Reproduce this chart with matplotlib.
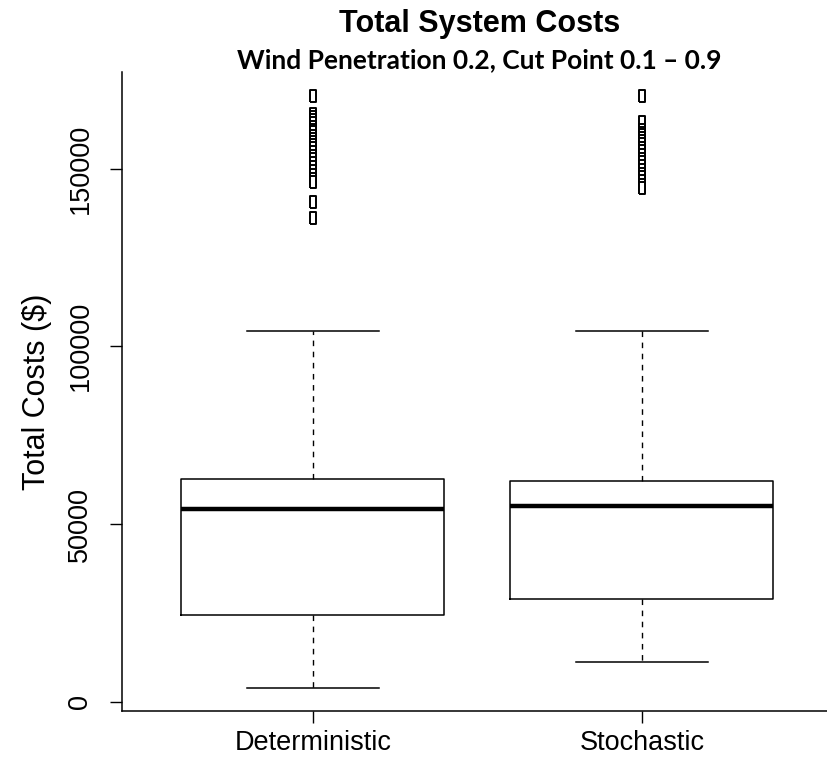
import matplotlib
matplotlib.use('Agg')
import matplotlib.pyplot as plt

# summary statistics of total system costs ($) per unit-commitment model
models = ['Deterministic', 'Stochastic']
lower_whisker = [3900, 11200]
q1 = [24500, 28900]
median = [54300, 55000]
q3 = [62700, 62200]
upper_whisker = [104300, 104300]

outliers_det = [170500, 165500, 164600, 163800, 162900, 161800, 160900, 160200,
                159300, 158400, 157500, 156600, 155700, 154600, 153600, 152700,
                151600, 150500, 149400, 148300, 147200, 146300, 140500, 136000]
outliers_sto = [170500, 163000, 160800, 160100, 159400, 158600, 157700, 156800,
                155800, 154900, 153900, 152800, 151800, 150700, 149700, 148600,
                147600, 146500, 145500, 144600]

plt.rcParams['font.family'] = ['Liberation Sans', 'DejaVu Sans']

fig = plt.figure(figsize=(8.27, 7.58), dpi=100)
ax = fig.add_axes([122 / 827, 47 / 758, 1 - 122 / 827, 639 / 758])

stats = []
for i, name in enumerate(models):
    stats.append({
        'label': name,
        'whislo': lower_whisker[i],
        'q1': q1[i],
        'med': median[i],
        'q3': q3[i],
        'whishi': upper_whisker[i],
        'fliers': [outliers_det, outliers_sto][i],
    })

# narrow open rectangle for the outlier points
rect = [(-0.28, -0.5), (0.28, -0.5), (0.28, 0.5), (-0.28, 0.5), (-0.28, -0.5)]

ax.bxp(stats, positions=[1, 2], widths=0.8, capwidths=0.4,
       boxprops=dict(color='black', linewidth=1.1),
       medianprops=dict(color='black', linewidth=3.2),
       whiskerprops=dict(color='black', linewidth=1.0, linestyle=(0, (4, 4))),
       capprops=dict(color='black', linewidth=1.1),
       flierprops=dict(marker=rect, markersize=8, markerfacecolor='white',
                       markeredgecolor='black', markeredgewidth=1.4,
                       linestyle='none'))

ax.set_xlim(0.42, 0.42 + 705 / 329)
ax.set_ylim(-2620, 177200)
ax.set_yticks([0, 50000, 100000, 150000])
ax.set_yticklabels(['0', '50000', '100000', '150000'], rotation=90, va='center')
ax.set_xticks([1, 2])
ax.set_xticklabels(models)

for side in ['top', 'right']:
    ax.spines[side].set_visible(False)
for side in ['left', 'bottom']:
    ax.spines[side].set_linewidth(1.1)

ax.tick_params(axis='y', length=8.6, width=1.0, pad=12, labelsize=19.5)
ax.tick_params(axis='x', length=8.6, width=1.0, pad=5, labelsize=19.5)
ax.set_ylabel('Total Costs ($)', fontsize=22, labelpad=11)

fig.text(0.58, 1 - 32 / 758, 'Total System Costs', ha='center', va='baseline',
         fontsize=22, fontweight='bold')
fig.text(0.58, 1 - 68 / 758, 'Wind Penetration 0.2, Cut Point 0.1 \u2013 0.9',
         ha='center', va='baseline', fontsize=19, fontweight='bold',
         family=['Lato', 'DejaVu Sans'])

fig.savefig('out.png', dpi=100)
